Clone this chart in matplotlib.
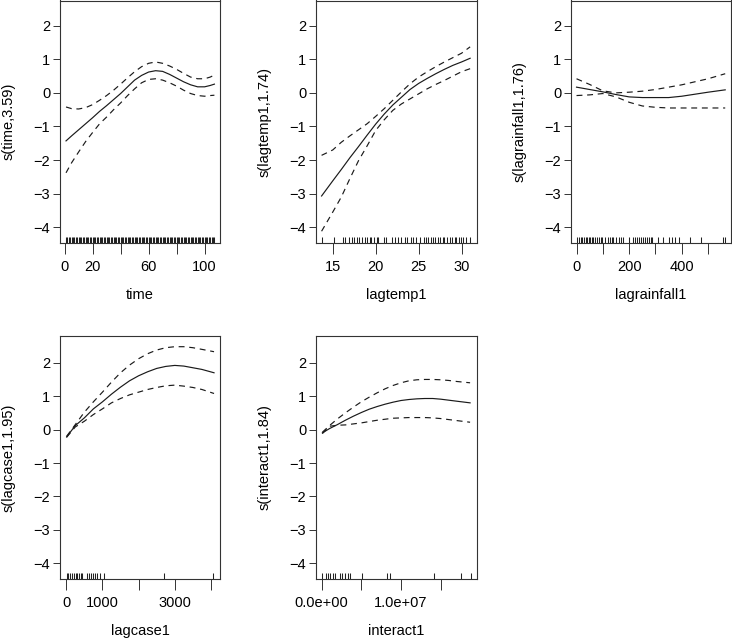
import matplotlib
matplotlib.use("Agg")
import matplotlib.pyplot as plt

plt.rcParams['font.family'] = ['Liberation Sans', 'DejaVu Sans']
plt.rcParams['font.size'] = 10.5

# ---------------- data ----------------
# panel 1: time
time_x = [1, 5, 10, 15, 20, 25, 30, 35, 40, 45, 50, 55, 60, 65, 70, 75, 80, 85, 90, 95, 100, 104, 107]
time_fit = [-1.43, -1.28, -1.10, -0.92, -0.74, -0.55, -0.38, -0.20, -0.02, 0.18, 0.38, 0.52, 0.62, 0.66, 0.64, 0.55, 0.44, 0.33, 0.24, 0.18, 0.18, 0.22, 0.26]
time_up = [-0.42, -0.47, -0.48, -0.44, -0.35, -0.22, -0.08, 0.08, 0.26, 0.45, 0.63, 0.78, 0.88, 0.92, 0.88, 0.80, 0.70, 0.58, 0.47, 0.42, 0.42, 0.47, 0.53]
time_lo = [-2.38, -2.08, -1.76, -1.45, -1.18, -0.92, -0.72, -0.50, -0.30, -0.08, 0.12, 0.30, 0.40, 0.42, 0.38, 0.30, 0.20, 0.08, -0.02, -0.08, -0.10, -0.08, -0.07]
time_rug = list(range(1, 108))

# panel 2: lagtemp1
temp_x = [13.7, 15, 16, 17, 18, 19, 20, 21, 22, 23, 24, 25, 26, 27, 28, 29, 30, 31]
temp_fit = [-3.07, -2.62, -2.28, -1.93, -1.60, -1.26, -0.93, -0.63, -0.36, -0.13, 0.10, 0.28, 0.43, 0.57, 0.70, 0.82, 0.92, 1.03]
temp_up = [-1.86, -1.70, -1.47, -1.28, -1.10, -0.92, -0.70, -0.47, -0.22, 0.03, 0.27, 0.47, 0.63, 0.78, 0.92, 1.05, 1.18, 1.37]
temp_lo = [-4.12, -3.55, -3.10, -2.55, -2.02, -1.58, -1.12, -0.80, -0.52, -0.33, -0.18, -0.03, 0.12, 0.25, 0.37, 0.50, 0.63, 0.72]
temp_rug = [13.8, 15.2, 16.2, 16.4, 16.9, 17.2, 17.5, 17.8, 18.1, 18.4, 18.7, 19.0, 19.3, 19.5, 19.8, 20.1, 20.3,
            21.0, 21.2, 21.9, 22.3, 22.6, 23.0, 23.4, 23.6, 24.1, 24.4, 24.7, 25.2, 25.6, 25.9, 26.1, 26.4, 26.7,
            26.9, 27.2, 27.5, 27.8, 28.0, 28.3, 28.6, 28.9, 29.2, 29.4, 29.7, 29.9, 30.2, 30.5, 31.0]

# panel 3: lagrainfall1
rain_x = [0, 50, 100, 150, 200, 250, 300, 350, 400, 450, 500, 565]
rain_fit = [0.17, 0.10, 0.03, -0.05, -0.12, -0.14, -0.14, -0.14, -0.10, -0.04, 0.02, 0.09]
rain_up = [0.42, 0.25, 0.06, 0.00, 0.02, 0.05, 0.10, 0.17, 0.24, 0.33, 0.42, 0.57]
rain_lo = [-0.08, -0.06, -0.02, -0.12, -0.28, -0.39, -0.43, -0.45, -0.45, -0.45, -0.45, -0.45]
rain_rug = [3, 10, 17, 22, 28, 35, 41, 47, 52, 58, 64, 70, 77, 85, 92, 98, 110, 118, 126, 133, 140, 150,
            160, 170, 178, 200, 215, 222, 230, 238, 245, 252, 260, 268, 275, 282, 288,
            310, 329, 351, 363, 376, 389, 431, 473, 555, 565]

# panel 4: lagcase1
case_x = [10, 250, 500, 750, 1000, 1250, 1500, 1750, 2000, 2250, 2500, 2750, 3000, 3250, 3500, 3750, 4085]
case_fit = [-0.22, 0.12, 0.35, 0.62, 0.83, 1.06, 1.27, 1.46, 1.61, 1.73, 1.83, 1.89, 1.92, 1.90, 1.85, 1.80, 1.70]
case_up = [-0.20, 0.15, 0.52, 0.83, 1.12, 1.42, 1.70, 1.93, 2.12, 2.27, 2.38, 2.45, 2.48, 2.48, 2.45, 2.40, 2.33]
case_lo = [-0.23, 0.08, 0.25, 0.45, 0.62, 0.80, 0.93, 1.04, 1.12, 1.20, 1.26, 1.31, 1.33, 1.30, 1.26, 1.20, 1.08]
case_rug = [15, 60, 110, 160, 210, 260, 300, 350, 400, 440, 570, 620, 680, 740, 790, 860, 920, 1030, 2690, 4065]

# panel 5: interact1
inter_x = [0.1e6, 1e6, 2e6, 3e6, 4e6, 5e6, 6e6, 7e6, 8e6, 9e6, 10e6, 11e6, 12e6, 13e6, 14e6, 15e6, 16e6, 17e6, 18.7e6]
inter_fit = [-0.10, 0.03, 0.15, 0.28, 0.40, 0.51, 0.61, 0.69, 0.76, 0.82, 0.87, 0.90, 0.92, 0.93, 0.93, 0.91, 0.88, 0.85, 0.80]
inter_up = [-0.08, 0.12, 0.32, 0.50, 0.67, 0.83, 0.97, 1.10, 1.22, 1.32, 1.40, 1.46, 1.49, 1.50, 1.50, 1.49, 1.47, 1.44, 1.40]
inter_lo = [-0.12, 0.10, 0.13, 0.14, 0.17, 0.20, 0.24, 0.28, 0.31, 0.34, 0.35, 0.36, 0.36, 0.36, 0.35, 0.33, 0.30, 0.27, 0.22]
inter_rug = [0.1e6, 0.5e6, 0.8e6, 1.1e6, 1.4e6, 1.7e6, 2.3e6, 2.6e6, 3.0e6, 3.3e6, 3.6e6, 5.1e6, 8.3e6, 8.6e6,
             14.1e6, 17.6e6, 18.8e6]

y_ticks = [-4, -3, -2, -1, 0, 1, 2]

panels = [
    dict(x=time_x, fit=time_fit, up=time_up, lo=time_lo, rug=time_rug, xlabel="time", ylabel="s(time,3.59)",
         xticks=[0, 20, 40, 60, 80, 100], xticklabels=["0", "20", "", "60", "", "100"], xlim=(-3.3, 111)),
    dict(x=temp_x, fit=temp_fit, up=temp_up, lo=temp_lo, rug=temp_rug, xlabel="lagtemp1", ylabel="s(lagtemp1,1.74)",
         xticks=[15, 20, 25, 30], xticklabels=["15", "20", "25", "30"], xlim=(13.05, 31.8)),
    dict(x=rain_x, fit=rain_fit, up=rain_up, lo=rain_lo, rug=rain_rug, xlabel="lagrainfall1", ylabel="s(lagrainfall1,1.76)",
         xticks=[0, 100, 200, 300, 400, 500], xticklabels=["0", "", "200", "", "400", ""], xlim=(-21, 587)),
    dict(x=case_x, fit=case_fit, up=case_up, lo=case_lo, rug=case_rug, xlabel="lagcase1", ylabel="s(lagcase1,1.95)",
         xticks=[0, 1000, 2000, 3000, 4000], xticklabels=["0", "1000", "", "3000", ""], xlim=(-173, 4250)),
    dict(x=inter_x, fit=inter_fit, up=inter_up, lo=inter_lo, rug=inter_rug, xlabel="interact1", ylabel="s(interact1,1.84)",
         xticks=[0, 5e6, 10e6, 15e6], xticklabels=["0.0e+00", "", "1.0e+07", ""], xlim=(-0.7e6, 19.57e6)),
]

W, H = 732, 641
fig = plt.figure(figsize=(W / 100, H / 100), dpi=100)

lefts = [60, 316, 571]
widths = [160, 161, 160]
rows = [(0.5, 243, (-4.47, 2.75)), (336, 579, (-4.47, 2.80))]

for i, p in enumerate(panels):
    r, c = divmod(i, 3)
    top, bot, ylim = rows[r]
    ax = fig.add_axes([lefts[c] / W, (H - bot) / H, widths[c] / W, (bot - top) / H])
    lc = '#1a1a1a'
    ax.plot(p['x'], p['fit'], color=lc, lw=0.85)
    ax.plot(p['x'], p['up'], color=lc, lw=0.85, dashes=(5, 4))
    ax.plot(p['x'], p['lo'], color=lc, lw=0.85, dashes=(5, 4))
    ax.vlines(p['rug'], 0, 0.025, transform=ax.get_xaxis_transform(), color='#222222', lw=0.75)
    ax.set_xlim(*p['xlim'])
    ax.set_ylim(*ylim)
    ax.set_yticks(y_ticks)
    ax.set_yticklabels(["\u22124", "\u22123", "\u22122", "\u22121", "0", "1", "2"])
    ax.set_xticks(p['xticks'])
    ax.set_xticklabels(p['xticklabels'])
    ax.tick_params(axis='x', direction='out', length=8, width=0.7, pad=4, labelsize=10.5, color='#333333')
    ax.tick_params(axis='y', direction='out', length=5, width=0.7, pad=2, labelsize=10.5, color='#333333')
    for s in ax.spines.values():
        s.set_linewidth(0.8)
        s.set_color('#333333')
    ax.set_xlabel(p['xlabel'], fontsize=10.5)
    ax.set_ylabel(p['ylabel'], fontsize=10.5)
    ax.xaxis.set_label_coords(0.5, -52.0 / (bot - top))
    ax.xaxis.label.set_va('center')
    ax.yaxis.set_label_coords(-0.32, 0.5)
    ax.yaxis.label.set_va('center')

fig.savefig("out.png", dpi=100)
